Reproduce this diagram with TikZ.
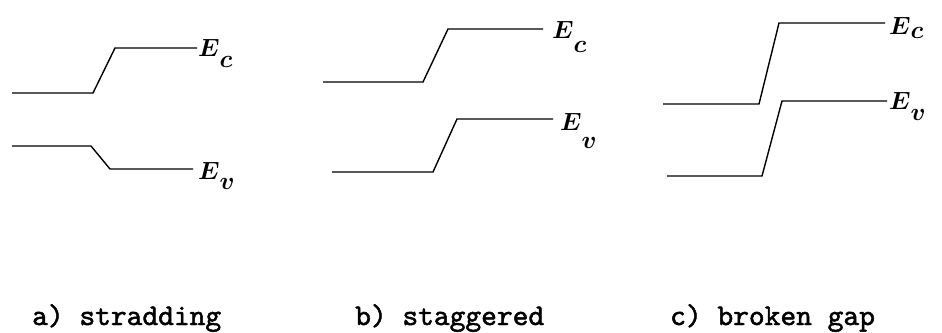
\documentclass[tikz,border=0pt]{standalone}
\usepackage{fontspec}
\newfontfamily\capfont{lmmono10-regular.otf}[FakeBold=1.6]
\begin{document}
\begin{tikzpicture}[x=1pt,y=-1pt,
  level/.style={line width=1.4pt,line join=miter},
  elabel/.style={anchor=base west,inner sep=0pt,outer sep=0pt},
  caption/.style={anchor=base west,inner sep=0pt,font=\capfont\fontsize{30}{34}\selectfont}]
\newcommand\Elbl[2]{{\boldmath\fontsize{30}{34}\selectfont$E$\raisebox{-#2pt}{\fontsize{24}{28}\selectfont$#1$}}}
\useasboundingbox (0,0) rectangle (942,332);
% panel a
\coordinate (a1) at (12,93); \coordinate (a2) at (93,93);
\coordinate (a3) at (115,48); \coordinate (a4) at (197,48);
\coordinate (b1) at (12,146); \coordinate (b2) at (91,146);
\coordinate (b3) at (110,169); \coordinate (b4) at (193,169);
\draw[level] (a1) -- (a2) -- (a3) -- (a4);
\draw[level] (b1) -- (b2) -- (b3) -- (b4);
\node[elabel] (aEc) at (198,56) {\Elbl{c}{11}};
\node[elabel] (aEv) at (198,179) {\Elbl{v}{10}};
% panel b
\coordinate (c1) at (323,82); \coordinate (c2) at (423,82);
\coordinate (c3) at (448,29); \coordinate (c4) at (543,29);
\coordinate (d1) at (332,172); \coordinate (d2) at (433,172);
\coordinate (d3) at (457,119); \coordinate (d4) at (553,119);
\draw[level] (c1) -- (c2) -- (c3) -- (c4);
\draw[level] (d1) -- (d2) -- (d3) -- (d4);
\node[elabel] (bEc) at (552,38) {\Elbl{c}{14}};
\node[elabel] (bEv) at (560,130) {\Elbl{v}{18}};
% panel c
\coordinate (e1) at (663,104); \coordinate (e2) at (759,104);
\coordinate (e3) at (779,23); \coordinate (e4) at (885,23);
\coordinate (f1) at (667,176); \coordinate (f2) at (762,176);
\coordinate (f3) at (782,101); \coordinate (f4) at (887,101);
\draw[level] (e1) -- (e2) -- (e3) -- (e4);
\draw[level] (f1) -- (f2) -- (f3) -- (f4);
\node[elabel] (cEc) at (889,34) {\Elbl{c}{5}};
\node[elabel] (cEv) at (889,109) {\Elbl{v}{11}};
% captions
\node[caption] (capa) at (32,325) {a) stradding};
\node[caption] (capb) at (355,325) {b) staggered};
\node[caption] (capc) at (670,325) {c) broken gap};
\end{tikzpicture}
\end{document}
